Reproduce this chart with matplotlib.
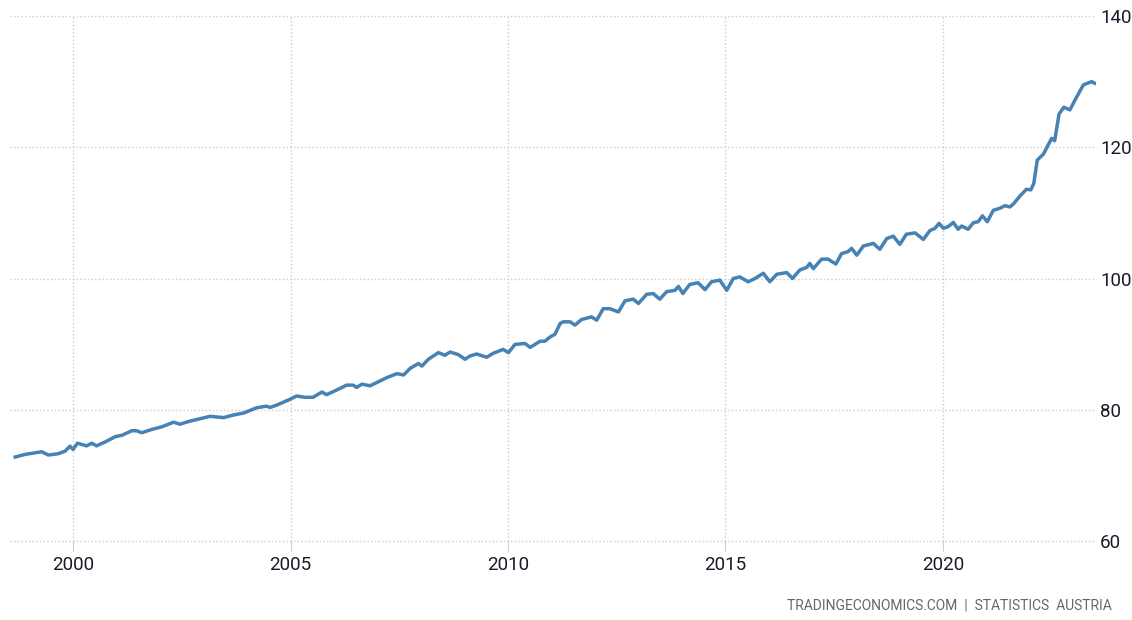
import matplotlib
matplotlib.use("Agg")
import matplotlib.pyplot as plt

# decimal year and index value
dates = [1998.67, 1998.9, 1999.28, 1999.43, 1999.66, 1999.82, 1999.93, 2000.0, 2000.1, 2000.31,
         2000.43, 2000.54, 2000.74, 2000.97, 2001.12, 2001.35, 2001.46, 2001.58, 2001.81, 2002.04,
         2002.31, 2002.46, 2002.65, 2002.84, 2003.15, 2003.46, 2003.69, 2003.92, 2004.22, 2004.45,
         2004.53, 2004.68, 2004.99, 2005.14, 2005.33, 2005.52, 2005.72, 2005.83, 2006.06, 2006.29,
         2006.44, 2006.52, 2006.64, 2006.83, 2007.06, 2007.25, 2007.45, 2007.6, 2007.75, 2007.94,
         2008.02, 2008.17, 2008.4, 2008.55, 2008.67, 2008.86, 2009.01, 2009.13, 2009.28, 2009.51,
         2009.66, 2009.89, 2010.01, 2010.16, 2010.39, 2010.51, 2010.74, 2010.85, 2010.97, 2011.08,
         2011.2, 2011.27, 2011.43, 2011.54, 2011.69, 2011.92, 2012.04, 2012.19, 2012.34, 2012.54,
         2012.69, 2012.88, 2013.0, 2013.19, 2013.34, 2013.49, 2013.65, 2013.84, 2013.92, 2014.02,
         2014.18, 2014.37, 2014.53, 2014.68, 2014.87, 2015.03, 2015.18, 2015.33, 2015.52, 2015.68,
         2015.87, 2016.02, 2016.18, 2016.41, 2016.54, 2016.71, 2016.87, 2016.94, 2017.02, 2017.21,
         2017.36, 2017.54, 2017.67, 2017.82, 2017.9, 2018.02, 2018.17, 2018.4, 2018.55, 2018.71,
         2018.86, 2019.01, 2019.16, 2019.36, 2019.55, 2019.7, 2019.82, 2019.91, 2020.01, 2020.12,
         2020.24, 2020.35, 2020.43, 2020.58, 2020.7, 2020.81, 2020.91, 2021.02, 2021.16, 2021.31,
         2021.43, 2021.54, 2021.62, 2021.77, 2021.92, 2022.02, 2022.09, 2022.17, 2022.31, 2022.39,
         2022.5, 2022.57, 2022.67, 2022.78, 2022.92, 2023.07, 2023.23, 2023.42, 2023.49]
values = [72.8, 73.2, 73.6, 73.1, 73.3, 73.7, 74.45, 73.95, 74.9, 74.5,
          74.9, 74.5, 75.1, 75.9, 76.1, 76.8, 76.8, 76.5, 77.0, 77.4,
          78.1, 77.8, 78.2, 78.5, 79.0, 78.8, 79.2, 79.5, 80.3, 80.55,
          80.35, 80.7, 81.6, 82.1, 81.9, 81.9, 82.7, 82.3, 83.0, 83.75,
          83.75, 83.4, 83.9, 83.65, 84.4, 85.0, 85.5, 85.3, 86.3, 87.05,
          86.65, 87.7, 88.7, 88.3, 88.8, 88.4, 87.7, 88.2, 88.5, 88.0,
          88.6, 89.2, 88.7, 89.95, 90.1, 89.5, 90.45, 90.45, 91.1, 91.5,
          93.15, 93.4, 93.4, 92.9, 93.75, 94.15, 93.65, 95.4, 95.4, 94.9,
          96.6, 96.85, 96.2, 97.6, 97.7, 96.85, 98.0, 98.2, 98.8, 97.7,
          99.1, 99.35, 98.3, 99.5, 99.75, 98.2, 100.0, 100.25, 99.5, 100.0,
          100.8, 99.5, 100.65, 100.9, 100.0, 101.3, 101.7, 102.3, 101.5, 102.95,
          102.95, 102.2, 103.8, 104.1, 104.6, 103.55, 104.95, 105.35, 104.45, 106.1,
          106.45, 105.2, 106.75, 106.95, 105.95, 107.3, 107.65, 108.4, 107.65, 107.9,
          108.55, 107.5, 108.0, 107.5, 108.5, 108.65, 109.55, 108.65, 110.4, 110.7,
          111.1, 110.9, 111.35, 112.55, 113.6, 113.5, 114.5, 118.05, 118.95, 119.95,
          121.35, 121.0, 125.05, 126.1, 125.7, 127.6, 129.5, 130.0, 129.75]

year_ticks = [2000, 2005, 2010, 2015, 2020]
value_ticks = [60, 80, 100, 120, 140]

plt.rcParams['font.family'] = ['Liberation Sans Narrow', 'DejaVu Sans Condensed', 'Roboto', 'DejaVu Sans']

fig = plt.figure(figsize=(11.32, 6.2), dpi=100)
ax = fig.add_axes([10 / 1132, 1 - 541 / 620, (1096 - 10) / 1132, (541 - 16) / 620])

ax.plot(dates, values, color='#4682b4', lw=2.5, solid_joinstyle='round')

ax.set_xlim(1998.55, 2023.52)
ax.set_ylim(60, 140)
ax.set_xticks(year_ticks)
ax.set_yticks(value_ticks)
ax.yaxis.tick_right()
ax.grid(True, color='#cccccc', linestyle=':', linewidth=1.0)
for g in ax.get_ygridlines():
    g.set_clip_on(False)
for s in ax.spines.values():
    s.set_visible(False)
ax.tick_params(axis='x', length=7, color='#cccccc', labelsize=13.5, labelcolor='#1a1a2a', pad=4)
ax.tick_params(axis='y', length=0, labelsize=13.5, labelcolor='#1a1a2a', pad=3)

fig.text(0.982, 0.012, 'TRADINGECONOMICS.COM  |  STATISTICS  AUSTRIA', ha='right', va='bottom',
         fontsize=10, color='#666666')

fig.savefig('out.png', dpi=100)
